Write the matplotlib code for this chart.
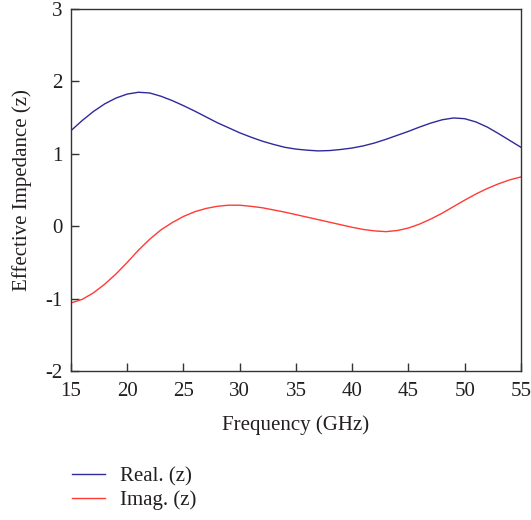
import matplotlib
matplotlib.use("Agg")
import matplotlib.pyplot as plt

plt.rcParams['font.family'] = ['Liberation Serif', 'DejaVu Serif']

# frequency (GHz)
freq = list(range(15, 56))

# effective impedance
real_z = [1.32, 1.46, 1.585, 1.69, 1.77, 1.825, 1.85, 1.84, 1.795, 1.735,
          1.665, 1.59, 1.51, 1.43, 1.36, 1.29, 1.23, 1.175, 1.13, 1.09,
          1.065, 1.05, 1.04, 1.045, 1.06, 1.08, 1.11, 1.15, 1.20, 1.255,
          1.31, 1.37, 1.425, 1.47, 1.495, 1.485, 1.44, 1.37, 1.28, 1.185,
          1.09]
imag_z = [-1.06, -1.01, -0.92, -0.80, -0.66, -0.50, -0.33, -0.18, -0.05, 0.05,
          0.135, 0.20, 0.245, 0.275, 0.29, 0.29, 0.275, 0.255, 0.225, 0.195,
          0.16, 0.125, 0.09, 0.055, 0.02, -0.015, -0.045, -0.065, -0.075, -0.06,
          -0.025, 0.03, 0.10, 0.18, 0.27, 0.36, 0.445, 0.52, 0.585, 0.64,
          0.68]

x_ticks = [15, 20, 25, 30, 35, 40, 45, 50, 55]
y_ticks = [-2, -1, 0, 1, 2, 3]

fig = plt.figure(figsize=(5.31, 5.20), dpi=100)
ax = fig.add_axes([0.1337, 0.2865, 0.8473, 0.6962])

ax.plot(freq, real_z, color='#2e2a9c', lw=1.0, label='Real. (z)')
ax.plot(freq, imag_z, color='#ff3b36', lw=1.0, label='Imag. (z)')

ax.set_xlim(15, 55)
ax.set_ylim(-2, 3)
ax.set_xticks(x_ticks)
ax.set_yticks(y_ticks)
ax.set_yticklabels([str(v) for v in y_ticks])
ax.tick_params(direction='in', length=5.5, width=1, colors='#333333',
               labelcolor='#231f20', labelsize=15, pad=6)
ax.tick_params(axis='x', pad=8)
for s in ax.spines.values():
    s.set_color('#333333')
    s.set_linewidth(1)

ax.set_xlabel('Frequency (GHz)', fontsize=15, color='#231f20', labelpad=10)
ax.set_ylabel('Effective Impedance (z)', fontsize=15, color='#231f20', labelpad=10)

fig.legend(loc='upper left', bbox_to_anchor=(0.1356, 0.102), frameon=False,
           borderpad=0, borderaxespad=0,
           fontsize=15, handlelength=1.6, handletextpad=0.7, labelspacing=0.2,
           labelcolor='#231f20')

fig.savefig('out.png', dpi=100)
